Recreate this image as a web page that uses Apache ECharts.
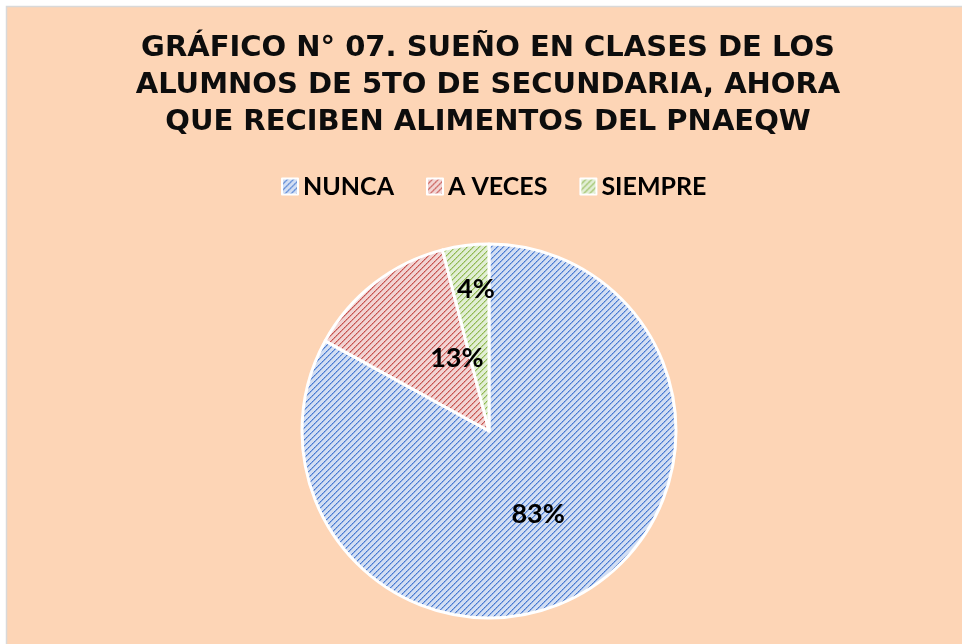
<!DOCTYPE html>
<html>
<head>
<meta charset="utf-8">
<script src="https://cdn.jsdelivr.net/npm/echarts@6/dist/echarts.min.js"></script>
<style>
  html, body { margin: 0; padding: 0; background: #ffffff; }
  #chart { width: 962px; height: 644px; }
</style>
</head>
<body>
<div id="chart"></div>
<script>
// datos del grafico
var categorias = ['NUNCA', 'A VECES', 'SIEMPRE'];
var porcentajes = [83, 13, 4];
var titulo = 'GRÁFICO N° 07. SUEÑO EN CLASES DE LOS\nALUMNOS DE 5TO DE SECUNDARIA, AHORA\nQUE RECIBEN ALIMENTOS DEL PNAEQW';

// trama diagonal tipo excel
function trama(fondo, linea) {
    var c = document.createElement('canvas');
    c.width = 6;
    c.height = 6;
    var ctx = c.getContext('2d');
    ctx.fillStyle = fondo;
    ctx.fillRect(0, 0, 6, 6);
    for (var i = 0; i < 6; i++) {
        ctx.fillStyle = linea;
        ctx.globalAlpha = (i % 2 == 0) ? 1 : 0.8;
        ctx.fillRect(i, 5 - i, 1, 1);
        ctx.globalAlpha = 0.45;
        ctx.fillRect((i + 1) % 6, 5 - i, 1, 1);
    }
    ctx.globalAlpha = 1;
    return { image: c, repeat: 'repeat' };
}

var colores = [
    trama('#d2def3', '#4276d0'),
    trama('#f2d4d3', '#c44d4a'),
    trama('#e1eed4', '#8db64c')
];

// ajuste de etiquetas como en excel
var ajusteEtiqueta = {
    'A VECES': [27, 4],
    'SIEMPRE': [-1, -46]
};

function getDatos() {
    var datos = [];
    for (var i = 0; i < categorias.length; i++) {
        var item = {
            name: categorias[i],
            value: porcentajes[i],
            itemStyle: { color: colores[i] }
        };
        if (ajusteEtiqueta[categorias[i]]) {
            item.label = { offset: ajusteEtiqueta[categorias[i]] };
        }
        datos.push(item);
    }
    return datos;
}

var myChart = echarts.init(document.getElementById('chart'));
var option = {
    backgroundColor: '#ffffff',
    animation: false,
    graphic: [{
        type: 'rect',
        z: -10,
        shape: { x: 6.5, y: 6.5, width: 1000, height: 700 },
        style: { fill: '#fdd5b6', stroke: '#d9d9d9', lineWidth: 1.5 }
    }],
    title: {
        text: titulo,
        left: 488,
        top: 30,
        padding: 0,
        textAlign: 'center',
        textStyle: {
            fontFamily: 'DejaVu Sans',
            fontWeight: 'bold',
            fontSize: 29,
            lineHeight: 37,
            color: '#0d0d0d'
        }
    },
    legend: {
        data: categorias,
        top: 174,
        left: 281,
        padding: 0,
        itemWidth: 16,
        itemHeight: 16,
        itemGap: 32,
        icon: 'rect',
        itemStyle: { borderColor: '#ffffff', borderWidth: 2 },
        textStyle: {
            fontFamily: 'Lato',
            fontWeight: 'bold',
            fontSize: 25,
            color: '#000000'
        }
    },
    series: [{
        name: 'Sueño en clases',
        type: 'pie',
        center: [489, 431],
        radius: 187,
        startAngle: 90,
        clockwise: true,
        itemStyle: { borderColor: '#ffffff', borderWidth: 3 },
        label: {
            show: true,
            position: 'inside',
            formatter: '{d}%',
            fontFamily: 'Lato',
            fontWeight: 'bold',
            fontSize: 27,
            color: '#000000'
        },
        labelLine: { show: false },
        emphasis: { disabled: true },
        data: getDatos()
    }]
};
myChart.setOption(option);
</script>
</body>
</html>
